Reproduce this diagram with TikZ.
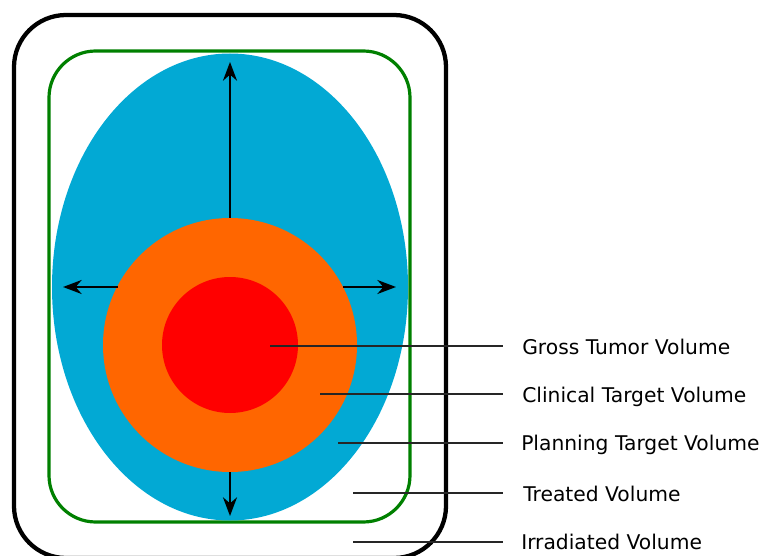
\documentclass[tikz,border=0pt]{standalone}
\usepackage{fontspec}
\setmainfont{DejaVu Sans}
\usetikzlibrary{shapes.geometric,arrows.meta}
\definecolor{ptvblue}{HTML}{02A9D4}
\definecolor{ctvorange}{HTML}{FF6600}
\definecolor{gtvred}{HTML}{FF0000}
\definecolor{tvgreen}{HTML}{008000}
\tikzset{
  vol/.style={inner sep=0pt, outer sep=0pt, draw=none},
  growarrow/.style={line width=1.7pt, -{Stealth[length=14pt,width=10.5pt,inset=4.5pt]}},
  leader/.style={line width=1.1pt, draw=black!85},
  lbl/.style={anchor=base west, inner sep=0pt, font=\fontsize{15.2pt}{18pt}\selectfont}
}
\begin{document}
\begin{tikzpicture}[x=0.75pt,y=-0.75pt]
\useasboundingbox (0,0) rectangle (764,556);
\clip (0,0) rectangle (764,556);
% irradiated volume (black)
\draw[line width=3.2pt, rounded corners=39pt] (14,15) rectangle (446,558);
% treated volume (green)
\draw[tvgreen, line width=2.4pt, rounded corners=35pt] (49,51) rectangle (410,522);
% PTV
\node[vol, ellipse, fill=ptvblue, minimum width=267pt, minimum height=350.25pt] (ptv) at (230,287) {};
% CTV
\node[vol, circle, fill=ctvorange, minimum size=190.5pt] (ctv) at (230,345) {};
% GTV
\node[vol, circle, fill=gtvred, minimum size=102pt] (gtv) at (230,345) {};
% growth arrows
\coordinate (tipU) at (230,62);
\coordinate (tipD) at (230,516);
\coordinate (tipL) at (63,287);
\coordinate (tipR) at (396,287);
\draw[growarrow] (ctv.north) -- (tipU);
\draw[growarrow] (ctv.south) -- (tipD);
\draw[growarrow] (tipL -| ctv.152.8) -- (tipL);
\draw[growarrow] (tipR -| ctv.27.2) -- (tipR);
% labels
\node[lbl] (lgtv) at (522,354) {Gross Tumor Volume};
\node[lbl] (lctv) at (522,402) {Clinical Target Volume};
\node[lbl] (lptv) at (521,450) {Planning Target Volume};
\node[lbl] (ltv) at (523,501) {Treated Volume};
\node[lbl] (liv) at (521,549) {Irradiated Volume};
\coordinate (sgtv) at (270,346); \coordinate (egtv) at (503,346);
\coordinate (sctv) at (320,394); \coordinate (ectv) at (503,394);
\coordinate (sptv) at (338,443); \coordinate (eptv) at (503,443);
\coordinate (stv) at (353,493); \coordinate (etv) at (503,493);
\coordinate (siv) at (353,542); \coordinate (eiv) at (503,542);
\draw[leader] (sgtv) -- (egtv);
\draw[leader] (sctv) -- (ectv);
\draw[leader] (sptv) -- (eptv);
\draw[leader] (stv) -- (etv);
\draw[leader] (siv) -- (eiv);
\end{tikzpicture}
\end{document}
